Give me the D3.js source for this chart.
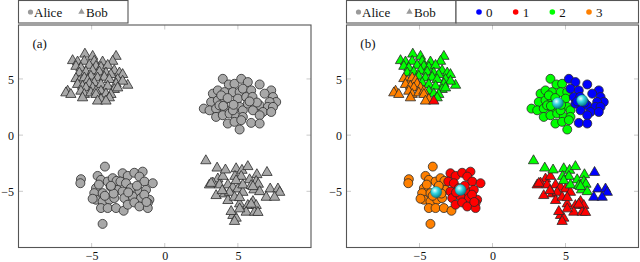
<!DOCTYPE html>
<html><head><meta charset="utf-8">
<script src="https://cdn.jsdelivr.net/npm/d3@7"></script>
<style>
html,body{margin:0;padding:0;background:#fff;}
svg{display:block;}
text{font-family:"Liberation Serif","DejaVu Serif",serif;fill:#111;}
</style></head>
<body><svg id="chart" width="640" height="262"></svg>
<script>
// ---- data ----
const seriesNames = ["Alice", "Bob"];
const clusterLabels = ["0", "1", "2", "3"];
const clusterColors = ["#0000ff", "#ff0000", "#00ff00", "#ff8000"];
const xTicks = [-5, 0, 5];
const yTicks = [-5, 0, 5];
const panelLabels = ["(a)", "(b)"];

// Alice points: [x, y, cluster]
const alicePoints = [
 [3.97,5.01,2],[4.38,4.51,2],[4.77,4.57,2],[2.67,2.36,2],[3.29,3.69,2],[3.63,3.98,2],[4.09,3.83,2],[4.66,3.83,2],[5.12,3.83,2],
 [3.17,2.95,2],[3.63,3.10,2],[4.09,3.10,2],[5.00,3.25,2],[3.06,2.21,2],[3.51,2.36,2],[4.09,2.36,2],[5.12,2.51,2],[5.34,2.21,2],
 [3.51,1.62,2],[3.97,1.77,2],[4.43,1.92,2],[4.88,1.62,2],[5.34,1.62,2],[4.31,1.03,2],[4.77,1.18,2],[5.23,1.33,2],[5.12,0.50,2],
 [3.86,3.54,2],[3.74,2.65,2],[4.66,2.21,2],[4.30,3.30,2],[4.70,2.70,2],[4.00,2.60,2],
 [5.23,5.01,0],[5.68,4.72,0],[6.49,4.51,0],[7.28,3.98,0],[5.34,4.13,0],[5.91,3.98,0],[6.83,3.69,0],[7.40,3.39,0],[7.62,2.95,0],
 [5.57,3.39,0],[7.17,2.95,0],[5.68,2.80,0],[6.49,2.65,0],[7.05,2.51,0],[7.40,2.51,0],[6.03,2.21,0],[6.71,2.06,0],[7.28,2.06,0],
 [6.49,1.77,0],[5.91,1.09,0],[6.49,1.03,0],[6.00,3.40,0],[6.30,2.90,0],[5.80,3.00,0],
 [-5.73,-3.92,3],[-5.77,-4.28,3],[-4.09,-2.80,3],[-4.59,-3.63,3],[-4.36,-3.98,3],[-3.90,-4.13,3],[-3.56,-3.83,3],[-4.70,-4.72,3],
 [-4.82,-5.16,3],[-4.70,-5.75,3],[-4.25,-5.90,3],[-3.79,-5.75,3],[-3.45,-5.60,3],[-3.22,-4.87,3],[-4.25,-5.16,3],[-4.36,-6.49,3],
 [-3.90,-6.49,3],[-3.33,-6.49,3],[-2.81,-6.73,3],[-4.93,-5.66,3],[-4.25,-7.90,3],[-3.70,-4.60,3],[-4.10,-5.40,3],[-3.50,-5.20,3],
 [-4.50,-4.40,3],[-3.29,-4.07,3],[-3.68,-4.51,3],
 [-2.88,-3.39,1],[-2.53,-3.63,1],[-2.08,-3.35,1],[-1.51,-3.25,1],[-1.73,-3.69,1],[-3.03,-4.13,1],[-2.65,-4.28,1],[-1.39,-4.13,1],
 [-0.82,-4.28,1],[-2.88,-5.02,1],[-1.73,-5.02,1],[-1.28,-4.87,1],[-2.76,-5.60,1],[-2.19,-5.46,1],[-1.62,-5.60,1],[-1.05,-5.75,1],
 [-2.53,-6.19,1],[-2.08,-5.99,1],[-1.73,-6.35,1],[-1.16,-6.05,1],[-1.16,-6.49,1],[-2.31,-4.72,1],[-1.90,-4.50,1],[-2.50,-5.10,1],
 [-1.40,-5.30,1],[-1.25,-5.95,1]
];

// Bob points: [x, y, cluster]
const bobPoints = [
 [-5.46,7.28,2],[-4.93,7.08,2],[-3.33,7.08,2],[-6.30,6.70,2],[-5.96,6.58,2],[-5.50,6.64,2],[-4.82,6.64,2],[-4.25,6.58,2],[-3.56,6.64,2],
 [-6.07,6.19,2],[-5.73,6.04,2],[-5.16,6.28,2],[-4.70,6.19,2],[-4.36,6.11,2],[-3.90,6.28,2],[-3.45,5.81,2],[-3.10,5.60,2],[-2.88,5.46,2],
 [-5.84,5.60,2],[-5.39,5.69,2],[-4.93,5.81,2],[-4.47,5.69,2],[-4.02,5.60,2],[-3.68,5.46,2],[-3.22,5.02,2],[-2.53,4.51,2],[-2.88,4.87,2],
 [-5.05,5.31,2],[-4.59,5.16,2],[-4.13,5.22,2],[-3.79,5.02,2],[-3.33,4.63,2],[-4.82,4.72,2],[-4.36,4.58,2],[-3.90,4.42,2],[-3.45,4.13,2],
 [-3.22,4.27,2],[-4.36,3.98,2],[-4.02,3.74,2],[-3.68,3.69,2],[-3.79,3.39,2],
 [-6.07,5.10,3],[-5.84,4.87,3],[-5.50,5.16,3],[-5.27,4.93,3],[-5.96,4.58,3],[-5.62,4.42,3],[-5.16,4.63,3],[-5.39,4.27,3],[-4.93,4.27,3],
 [-6.64,3.98,3],[-6.76,3.83,3],[-6.42,3.69,3],[-5.73,3.98,3],[-5.50,3.69,3],[-5.05,3.83,3],[-4.70,3.98,3],[-5.62,3.39,3],[-4.70,3.69,3],
 [-4.36,3.25,3],[-4.59,3.10,3],
 [-4.02,3.10,1],
 [3.63,-3.83,1],[3.97,-3.60,1],[3.29,-4.19,1],[3.06,-4.36,1],[3.74,-4.36,1],[4.32,-4.36,1],[4.66,-4.57,1],[5.00,-4.72,1],[3.51,-5.31,1],
 [4.09,-5.16,1],[4.43,-5.02,1],[5.34,-5.02,1],[4.32,-5.75,1],[4.77,-5.46,1],[5.12,-6.05,1],[5.68,-6.19,1],[6.03,-5.84,1],[6.25,-6.19,1],
 [5.57,-6.79,1],[6.14,-6.79,1],[4.66,-7.08,1],[4.88,-7.32,1],[4.77,-7.61,1],[3.93,-4.87,1],[5.12,-6.49,1],[6.37,-6.81,1],[5.91,-6.08,1],
 [4.54,-6.73,1],[5.12,-5.49,1],[3.17,-4.22,1],
 [2.81,-2.21,2],[3.58,-2.86,2],[4.15,-3.03,2],[4.88,-2.92,2],[5.28,-3.06,2],[5.68,-2.73,2],[4.80,-3.60,2],[5.23,-3.60,2],[6.30,-3.45,2],
 [5.80,-3.90,2],[4.88,-3.98,2],[6.25,-4.05,2],[5.34,-4.36,2],[5.91,-4.42,2],[6.40,-4.30,2],[6.10,-4.80,2],[6.49,-4.96,2],[6.03,-4.51,2],
 [6.99,-3.25,0],[7.21,-4.72,0],[7.74,-4.72,0],[7.86,-5.02,0],[6.94,-5.46,0],[7.51,-5.46,0]
];

// cluster centroids, index = cluster label
const centroids = [[6.14,3.10],[-2.19,-4.87],[4.47,2.86],[-3.86,-5.07]];

// ---- drawing ----
const FONT = '"Liberation Serif","DejaVu Serif",serif';
const svg = d3.select("#chart");
const defs = svg.append("defs");
const grad = defs.append("radialGradient").attr("id","ball").attr("cx","38%").attr("cy","35%").attr("r","65%");
grad.append("stop").attr("offset","0%").attr("stop-color","#e8ffff");
grad.append("stop").attr("offset","45%").attr("stop-color","#33d6e0");
grad.append("stop").attr("offset","100%").attr("stop-color","#0a7f8c");

const grayFill = "#a8a8a8";
const markStroke = "#2a2a2a";
const triSym = d3.symbol().type(d3.symbolTriangle).size(46);
const fmt = d => String(d).replace("-", "\u2212");

function drawPanel(left, right, colored, label) {
  const x = d3.scaleLinear().domain([-10, 10]).range([left, right]);
  const y = d3.scaleLinear().domain([-10, 9.8]).range([247.5, 25]);
  const g = svg.append("g");
  // inner tick marks on all sides
  const tickLen = 4.5;
  const tg = g.append("g").attr("stroke", "#bdbdbd").attr("stroke-width", 0.8);
  xTicks.forEach(t => {
    tg.append("line").attr("x1", x(t)).attr("x2", x(t)).attr("y1", y.range()[0]).attr("y2", y.range()[0] - tickLen);
    tg.append("line").attr("x1", x(t)).attr("x2", x(t)).attr("y1", y.range()[1]).attr("y2", y.range()[1] + tickLen);
  });
  yTicks.forEach(t => {
    tg.append("line").attr("y1", y(t)).attr("y2", y(t)).attr("x1", left).attr("x2", left + tickLen);
    tg.append("line").attr("y1", y(t)).attr("y2", y(t)).attr("x1", right).attr("x2", right - tickLen);
  });
  // tick labels via d3 axes (no lines)
  const xa = g.append("g").attr("transform", `translate(0,${y.range()[0]})`)
    .call(d3.axisBottom(x).tickValues(xTicks).tickSize(0).tickPadding(0).tickFormat(fmt));
  xa.select(".domain").remove();
  xa.selectAll("text").attr("y", 12).attr("dy", 0).style("font-size", "12px").style("font-family", FONT).style("fill","#111");
  const ya = g.append("g").attr("transform", `translate(${left},0)`)
    .call(d3.axisLeft(y).tickValues(yTicks).tickSize(0).tickPadding(0).tickFormat(fmt));
  ya.select(".domain").remove();
  ya.selectAll("text").attr("x", -4.5).attr("dy", "0.35em").style("font-size", "12px").style("font-family", FONT).style("fill","#111");

  // points
  const pg = g.append("g");
  pg.selectAll("path.bob").data(bobPoints).join("path").attr("class","bob")
    .attr("d", triSym).attr("transform", d => `translate(${x(d[0])},${y(d[1]) + 0.8})`)
    .attr("fill", d => colored ? clusterColors[d[2]] : grayFill)
    .attr("stroke", markStroke).attr("stroke-width", 0.8).attr("stroke-linejoin","round");
  pg.selectAll("circle.alice").data(alicePoints).join("circle").attr("class","alice")
    .attr("cx", d => x(d[0])).attr("cy", d => y(d[1])).attr("r", 4.5)
    .attr("fill", d => colored ? clusterColors[d[2]] : grayFill)
    .attr("stroke", markStroke).attr("stroke-width", 0.8);
  if (colored) {
    pg.selectAll("circle.cent").data(centroids).join("circle").attr("class","cent")
      .attr("cx", d => x(d[0])).attr("cy", d => y(d[1])).attr("r", 5.6)
      .attr("fill", "url(#ball)").attr("stroke", "#0b6670").attr("stroke-width", 0.4);
  }
  // frame
  g.append("rect").attr("x", left).attr("y", y.range()[1]).attr("width", right - left)
    .attr("height", y.range()[0] - y.range()[1]).attr("fill", "none").attr("stroke", "#555").attr("stroke-width", 1.1);
  // panel label
  g.append("text").attr("x", x(-9.05)).attr("y", y(7.75)).style("font-size", "13px").text(label);
  return x;
}

drawPanel(18.5, 311, false, panelLabels[0]);
drawPanel(346.5, 638.5, true, panelLabels[1]);

// legends
function seriesLegend(left, right) {
  const g = svg.append("g");
  g.append("rect").attr("x", left).attr("y", 0.5).attr("width", right - left).attr("height", 22.5)
    .attr("fill", "#fff").attr("stroke", "#555").attr("stroke-width", 1.1);
  g.append("circle").attr("cx", left + 12).attr("cy", 12).attr("r", 2.6).attr("fill", "#9a9a9a");
  g.append("text").attr("x", left + 15.5).attr("y", 16.5).style("font-size", "13px").text(seriesNames[0]);
  g.append("path").attr("d", d3.symbol().type(d3.symbolTriangle).size(18))
    .attr("transform", `translate(${left + 63},12)`).attr("fill", "#9a9a9a");
  g.append("text").attr("x", left + 67.5).attr("y", 16.5).style("font-size", "13px").text(seriesNames[1]);
}
seriesLegend(18.5, 128);
seriesLegend(346.5, 456);

const lg = svg.append("g");
lg.append("rect").attr("x", 456).attr("y", 0.5).attr("width", 182.5).attr("height", 22.5)
  .attr("fill", "#fff").attr("stroke", "#555").attr("stroke-width", 1.1);
const legX = d3.scalePoint().domain(clusterLabels).range([479, 589]);
clusterLabels.forEach((c, i) => {
  lg.append("circle").attr("cx", legX(c)).attr("cy", 12).attr("r", 2.8).attr("fill", clusterColors[i]);
  lg.append("text").attr("x", legX(c) + 7).attr("y", 16.5).style("font-size", "13px").text(c);
});
</script>
</body></html>
